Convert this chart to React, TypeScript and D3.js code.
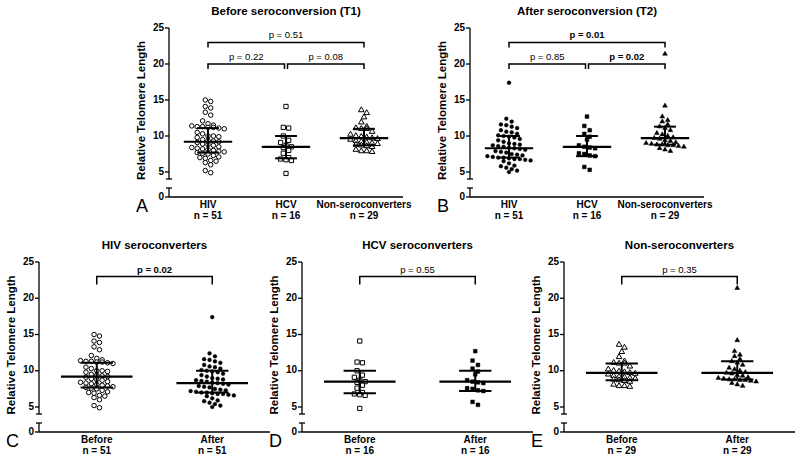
import React from 'react';
import * as d3 from 'd3';

// relative telomere length
const hivT1 = [15.0, 14.8, 14.1, 13.9, 13.3, 12.9, 12.1, 11.7, 11.5, 11.4, 11.3, 11.3, 11.2, 11.2, 11.1, 11.0,
  10.5, 10.3, 10.0, 10.0, 9.9, 9.8, 9.5, 9.4, 9.3, 9.2, 9.1, 8.9, 8.8, 8.7, 8.5, 8.4, 8.3, 8.2, 8.1, 8.0,
  7.9, 7.8, 7.7, 7.6, 7.5, 7.3, 7.1, 7.0, 6.9, 6.6, 6.5, 6.3, 6.0, 5.2, 4.9];
const hivT2 = [17.4, 12.4, 12.0, 11.6, 11.5, 11.3, 11.1, 10.8, 10.6, 10.5, 10.3, 10.1, 10.0, 9.9, 9.8, 9.6,
  9.4, 9.2, 9.0, 8.9, 8.8, 8.7, 8.6, 8.5, 8.4, 8.3, 8.2, 8.1, 7.9, 7.8, 7.7, 7.5, 7.4, 7.3, 7.2, 7.1, 7.0,
  7.0, 6.9, 6.8, 6.8, 6.7, 6.6, 6.5, 6.2, 5.9, 5.8, 5.6, 5.4, 5.2, 5.0];
const hcvT1 = [14.1, 11.2, 11.1, 10.0, 9.4, 9.1, 8.7, 8.5, 8.4, 8.0, 7.6, 7.0, 6.8, 6.7, 6.6, 4.8];
const hcvT2 = [12.7, 11.4, 10.8, 10.3, 9.9, 9.5, 8.7, 8.5, 8.4, 8.3, 7.6, 7.5, 7.3, 7.2, 5.7, 5.3];
const nonT1 = [13.6, 13.2, 12.6, 11.9, 11.3, 11.1, 11.0, 11.0, 10.6, 10.2, 10.0, 9.9, 9.8, 9.7, 9.6, 9.5,
  9.3, 9.2, 9.1, 9.0, 8.9, 8.8, 8.7, 8.6, 8.5, 8.1, 7.9, 7.9, 7.8];
const nonT2 = [21.4, 14.2, 12.7, 12.2, 12.0, 11.6, 11.3, 11.1, 10.8, 10.4, 10.2, 10.0, 9.8, 9.7, 9.6, 9.4,
  9.3, 9.1, 9.0, 8.9, 8.8, 8.8, 8.7, 8.7, 8.6, 8.5, 8.3, 8.1, 7.9];

// [median, q1, q3]
const hivT1Stats = [9.2, 7.7, 11.1];
const hivT2Stats = [8.3, 7.0, 10.0];
const hcvT1Stats = [8.5, 6.9, 10.0];
const hcvT2Stats = [8.5, 7.2, 10.0];
const nonT1Stats = [9.7, 8.7, 11.0];
const nonT2Stats = [9.7, 8.8, 11.3];

const yTicks = [5, 10, 15, 20, 25];
const topLabels = ['HIV', 'HCV', 'Non-seroconverters'];
const topNs = [51, 16, 29];
const bottomLabels = ['Before', 'After'];

const font = '"Liberation Sans", Arial, sans-serif';

type Group = { values: number[]; stats: number[]; shape: string; filled: boolean };
type Bracket = { from: number; to: number; level: number; label: string; bold: boolean };

const g = (values: number[], stats: number[], shape: string, filled: boolean): Group => ({ values, stats, shape, filled });

const rows = [
  { y25: 28, y5: 172, y0: 197, drop: 5 },
  { y25: 262, y5: 407, y0: 432, drop: 8 },
];

const panels = [
  {
    letter: 'A', title: 'Before seroconversion (T1)', row: 0, x0: 169, x1: 403,
    labels: topLabels, ns: topNs,
    groups: [g(hivT1, hivT1Stats, 'circle', false), g(hcvT1, hcvT1Stats, 'square', false), g(nonT1, nonT1Stats, 'triangle', false)],
    brackets: [
      { from: 0, to: 2, level: 23, label: 'p = 0.51', bold: false },
      { from: 0, to: 1, level: 20, label: 'p = 0.22', bold: false },
      { from: 1, to: 2, level: 20, label: 'p = 0.08', bold: false },
    ],
  },
  {
    letter: 'B', title: 'After seroconversion (T2)', row: 0, x0: 470, x1: 704,
    labels: topLabels, ns: topNs,
    groups: [g(hivT2, hivT2Stats, 'circle', true), g(hcvT2, hcvT2Stats, 'square', true), g(nonT2, nonT2Stats, 'triangle', true)],
    brackets: [
      { from: 0, to: 2, level: 23, label: 'p = 0.01', bold: true },
      { from: 0, to: 1, level: 20, label: 'p = 0.85', bold: false },
      { from: 1, to: 2, level: 20, label: 'p = 0.02', bold: true },
    ],
  },
  {
    letter: 'C', title: 'HIV seroconverters', row: 1, x0: 39, x1: 270,
    labels: bottomLabels, ns: [51, 51],
    groups: [g(hivT1, hivT1Stats, 'circle', false), g(hivT2, hivT2Stats, 'circle', true)],
    brackets: [{ from: 0, to: 1, level: 23, label: 'p = 0.02', bold: true }],
  },
  {
    letter: 'D', title: 'HCV seroconverters', row: 1, x0: 302, x1: 533,
    labels: bottomLabels, ns: [16, 16],
    groups: [g(hcvT1, hcvT1Stats, 'square', false), g(hcvT2, hcvT2Stats, 'square', true)],
    brackets: [{ from: 0, to: 1, level: 23, label: 'p = 0.55', bold: false }],
  },
  {
    letter: 'E', title: 'Non-seroconverters', row: 1, x0: 564, x1: 795,
    labels: bottomLabels, ns: [29, 29],
    groups: [g(nonT1, nonT1Stats, 'triangle', false), g(nonT2, nonT2Stats, 'triangle', true)],
    brackets: [{ from: 0, to: 1, level: 23, label: 'p = 0.35', bold: false }],
  },
];

// [symbol, size when open, size when filled]
const symbols: Record<string, [d3.SymbolType, number, number]> = {
  circle: [d3.symbolCircle, 16, 11],
  square: [d3.symbolSquare, 18, 14],
  triangle: [d3.symbolTriangle, 14, 10],
};

// spread points of similar value sideways, like a column scatter
function swarm(values: number[], y: (v: number) => number, cx: number) {
  const sorted = [...values].sort((a, b) => b - a);
  const out: { x: number; y: number }[] = [];
  let row: number[] = [];
  const flush = () => {
    row.forEach((v, i) => out.push({ x: cx + (i - (row.length - 1) / 2) * 5.4, y: y(v) }));
    row = [];
  };
  sorted.forEach((v) => {
    if (row.length && y(v) - y(row[0]) > 4.6) flush();
    row.push(v);
  });
  flush();
  return out;
}

function Panel({ p }: { p: typeof panels[number] }) {
  const r = rows[p.row];
  const y = d3.scaleLinear().domain([5, 25]).range([r.y5, r.y25]);
  const x = d3.scalePoint<number>().domain(d3.range(p.labels.length)).range([p.x0, p.x1]).padding(0.5);
  const step = x.step();
  const medHalf = step * 0.31;
  const iqrHalf = step * 0.14;
  const cxMid = (p.x0 + p.x1) / 2;
  return (
    <g fontFamily={font}>
      <text x={cxMid} y={r.y25 - 13} textAnchor="middle" fontSize={11.5} fontWeight="bold">{p.title}</text>
      <text transform={`translate(${p.x0 - 27},${(r.y25 + r.y0) / 2 - 2}) rotate(-90)`} textAnchor="middle"
        dominantBaseline="middle" fontSize={11.5} fontWeight="bold">Relative Telomere Length</text>
      <text x={p.x0 - 33} y={r.y0 + 15} fontSize={18}>{p.letter}</text>

      {/* broken y axis */}
      <g stroke="#000" strokeWidth={1.3}>
        <line x1={p.x0} x2={p.x0} y1={r.y25} y2={r.y5 + 7} />
        <line x1={p.x0 - 3} x2={p.x0 + 3} y1={r.y5 + 7} y2={r.y5 + 7} />
        <line x1={p.x0} x2={p.x0} y1={r.y0} y2={r.y0 - 9} />
        <line x1={p.x0 - 3} x2={p.x0 + 3} y1={r.y0 - 9} y2={r.y0 - 9} />
        <line x1={p.x0} x2={p.x1} y1={r.y0} y2={r.y0} />
        {yTicks.map((t) => <line key={t} x1={p.x0 - 4} x2={p.x0} y1={y(t)} y2={y(t)} />)}
        <line x1={p.x0 - 4} x2={p.x0} y1={r.y0} y2={r.y0} />
      </g>
      {yTicks.map((t) => (
        <text key={t} x={p.x0 - 5} y={y(t)} textAnchor="end" dominantBaseline="middle" fontSize={10} fontWeight="bold">{t}</text>
      ))}
      <text x={p.x0 - 5} y={r.y0} textAnchor="end" dominantBaseline="middle" fontSize={10} fontWeight="bold">0</text>

      {p.labels.map((l, i) => (
        <g key={l} fontSize={10} fontWeight="bold" textAnchor="middle">
          <text x={x(i)} y={r.y0 + 11}>{l}</text>
          <text x={x(i)} y={r.y0 + 22}>n = {p.ns[i]}</text>
        </g>
      ))}

      {p.groups.map((grp, i) => {
        const cx = x(i)!;
        const [type, openSize, filledSize] = symbols[grp.shape];
        const path = d3.symbol(type, grp.filled ? filledSize : openSize)()!;
        const [med, q1, q3] = grp.stats;
        return (
          <g key={i}>
            {swarm(grp.values, y, cx).map((pt, j) => (
              <path key={j} d={path} transform={`translate(${pt.x},${pt.y})`}
                fill={grp.filled ? '#000' : '#fff'} stroke="#000" strokeWidth={grp.filled ? 0.5 : 1} />
            ))}
            <g stroke="#000">
              <line x1={cx - medHalf} x2={cx + medHalf} y1={y(med)} y2={y(med)} strokeWidth={2.2} />
              <line x1={cx - iqrHalf} x2={cx + iqrHalf} y1={y(q1)} y2={y(q1)} strokeWidth={2} />
              <line x1={cx - iqrHalf} x2={cx + iqrHalf} y1={y(q3)} y2={y(q3)} strokeWidth={2} />
              <line x1={cx} x2={cx} y1={y(q1)} y2={y(q3)} strokeWidth={2} />
            </g>
          </g>
        );
      })}

      {p.brackets.map((b: Bracket, i: number) => {
        const adjacent = b.to - b.from === 1 && p.labels.length === 3;
        const xa = x(b.from)! + (adjacent && b.from === 1 ? 1.5 : 0);
        const xb = x(b.to)! - (adjacent && b.to === 1 ? 1.5 : 0);
        const yy = y(b.level);
        return (
          <g key={i}>
            <path d={`M${xa},${yy + r.drop}V${yy}H${xb}V${yy + r.drop}`} fill="none" stroke="#000" strokeWidth={1.5} />
            <text x={(xa + xb) / 2} y={yy - 4} textAnchor="middle" fontSize={9.5} fontWeight={b.bold ? 'bold' : 'normal'}>{b.label}</text>
          </g>
        );
      })}
    </g>
  );
}

export default function App() {
  return (
    <svg width={800} height={460} style={{ position: 'absolute', left: 0, top: 0, background: '#fff' }}>
      {panels.map((p) => <Panel key={p.letter} p={p} />)}
    </svg>
  );
}
